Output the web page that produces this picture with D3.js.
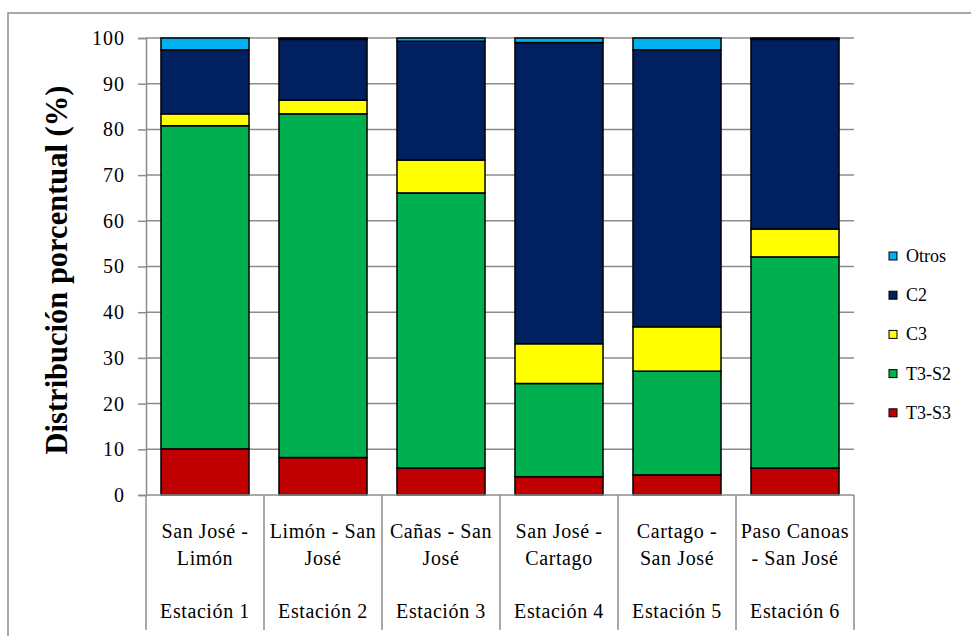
<!DOCTYPE html>
<html>
<head>
<meta charset="utf-8">
<script src="https://cdn.jsdelivr.net/npm/d3@7"></script>
<style>
  html, body { margin: 0; padding: 0; background: #fff; }
  svg { display: block; }
</style>
</head>
<body>
<svg id="chart" width="971" height="636"></svg>
<script>
// Route labels (two lines) and station names for each bar
const routeLines = [
  ["San José -", "Limón"],
  ["Limón - San", "José"],
  ["Cañas - San", "José"],
  ["San José -", "Cartago"],
  ["Cartago -", "San José"],
  ["Paso Canoas", "- San José"]
];
const stations = ["Estación 1", "Estación 2", "Estación 3", "Estación 4", "Estación 5", "Estación 6"];

// Vehicle classes, bottom to top of each stack
const seriesNames = ["T3-S3", "T3-S2", "C3", "C2", "Otros"];
const seriesColors = ["#C00000", "#00B050", "#FFFF00", "#002060", "#00B0F0"];

// Percentage share per station
const t3s3 = [10.1, 8.2, 5.9, 4.0, 4.4, 5.9];
const t3s2 = [70.7, 75.2, 60.2, 20.4, 22.7, 46.2];
const c3   = [2.6, 3.0, 7.2, 8.7, 9.7, 6.1];
const c2   = [14.0, 13.3, 26.0, 65.9, 60.6, 41.5];
const otros = [2.6, 0.3, 0.7, 1.0, 2.6, 0.3];

const yTicks = [0, 10, 20, 30, 40, 50, 60, 70, 80, 90, 100];

const FONT = "'Liberation Serif', 'Times New Roman', serif";

const rows = stations.map((s, i) => ({
  station: s,
  "T3-S3": t3s3[i], "T3-S2": t3s2[i], "C3": c3[i], "C2": c2[i], "Otros": otros[i]
}));

const svg = d3.select("#chart");
const plotLeft = 146, plotRight = 854, plotTop = 38, plotBottom = 495;

// Outer chart frame
svg.append("rect")
  .attr("x", 8).attr("y", 13).attr("width", 1000).attr("height", 700)
  .attr("fill", "none").attr("stroke", "#8c8c8c").attr("stroke-width", 1.5);

const x = d3.scaleBand().domain(stations).range([plotLeft, plotRight]).paddingInner(0.254).paddingOuter(0.127);
const y = d3.scaleLinear().domain([0, 100]).range([plotBottom, plotTop]);

// Horizontal gridlines
svg.append("g").selectAll("line").data(yTicks.filter(d => d > 0)).join("line")
  .attr("x1", plotLeft).attr("x2", plotRight)
  .attr("y1", d => y(d)).attr("y2", d => y(d))
  .attr("stroke", "#8c8c8c").attr("stroke-width", 1.5);

// Value axis
const yAxis = svg.append("g").attr("transform", `translate(${plotLeft},0)`)
  .call(d3.axisLeft(y).tickValues(yTicks).tickSize(8).tickPadding(13));
yAxis.select(".domain").attr("stroke", "#8c8c8c").attr("stroke-width", 1.5);
yAxis.selectAll(".tick line").attr("stroke", "#8c8c8c").attr("stroke-width", 1.5);
yAxis.selectAll(".tick text")
  .style("font-family", FONT)
  .style("font-size", "20px").style("letter-spacing", "1px").attr("fill", "#000");

// Stacked bars
const stack = d3.stack().keys(seriesNames)(rows);
const color = d3.scaleOrdinal().domain(seriesNames).range(seriesColors);
svg.append("g").selectAll("g").data(stack).join("g")
  .attr("fill", d => color(d.key))
  .selectAll("rect").data(d => d).join("rect")
  .attr("x", d => x(d.data.station))
  .attr("width", x.bandwidth())
  .attr("y", d => y(d[1]))
  .attr("height", d => y(d[0]) - y(d[1]))
  .attr("stroke", "#000").attr("stroke-width", 1.5);

// Category axis with divider lines between stations
const step = x.step();
const cat = svg.append("g");
cat.append("line").attr("x1", plotLeft).attr("x2", plotRight).attr("y1", plotBottom).attr("y2", plotBottom)
  .attr("stroke", "#8c8c8c").attr("stroke-width", 1.5);
cat.selectAll("line.div").data(d3.range(stations.length + 1)).join("line")
  .attr("class", "div")
  .attr("x1", i => plotLeft + i * step).attr("x2", i => plotLeft + i * step)
  .attr("y1", plotBottom).attr("y2", 630)
  .attr("stroke", "#8c8c8c").attr("stroke-width", 1.5);

function catText(sel, cx, cy, str) {
  sel.append("text").attr("x", cx).attr("y", cy)
    .attr("text-anchor", "middle").attr("fill", "#000")
    .style("font-family", FONT).style("font-size", "20px").style("letter-spacing", "0.6px")
    .text(str);
}
stations.forEach((s, i) => {
  const cx = x(s) + x.bandwidth() / 2;
  routeLines[i].forEach((ln, j) => catText(cat, cx, 538 + j * 27, ln));
  catText(cat, cx, 618, s);
});

// Y axis title
svg.append("text")
  .attr("transform", `translate(67,270) rotate(-90)`)
  .attr("text-anchor", "middle").attr("fill", "#000")
  .style("font-family", FONT).style("font-weight", "bold").style("font-size", "30.5px")
  .text("Distribución porcentual (%)");

// Legend, top entry is Otros
const legendOrder = seriesNames.slice().reverse();
const lg = svg.append("g");
legendOrder.forEach((k, i) => {
  const ly = 256 + i * 39.2;
  lg.append("rect").attr("x", 889).attr("y", ly - 4).attr("width", 8).attr("height", 8)
    .attr("fill", color(k)).attr("stroke", "#000").attr("stroke-width", 1);
  lg.append("text").attr("x", 906).attr("y", ly + 6).attr("fill", "#000")
    .style("font-family", FONT).style("font-size", "18px").text(k);
});
</script>
</body>
</html>
